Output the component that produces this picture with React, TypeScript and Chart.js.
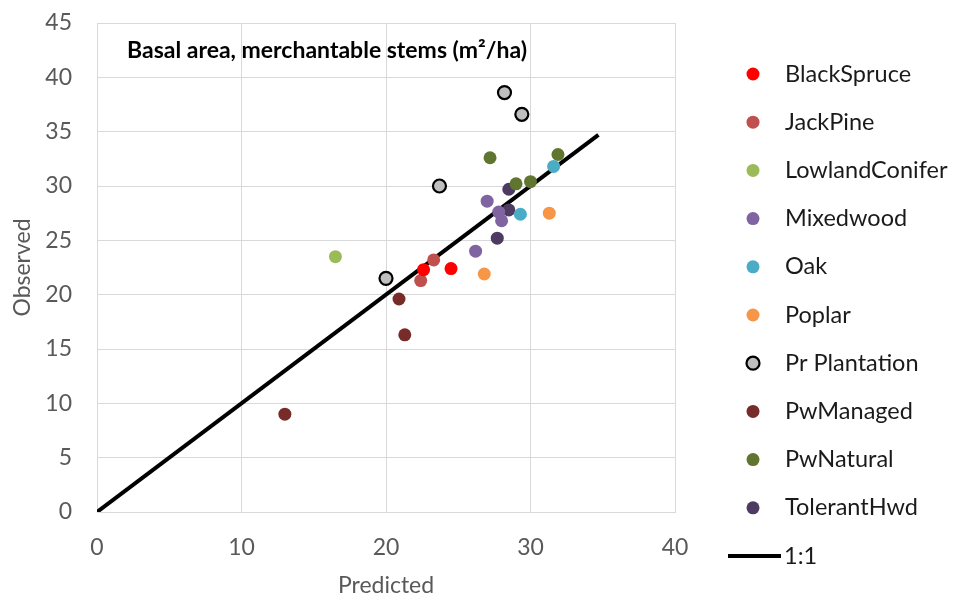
import React, { useEffect, useRef } from "react";
import { Chart, registerables } from "chart.js";

Chart.register(...registerables);

// ---- Data (Predicted vs Observed basal area, m²/ha) ----
const blackSprucePred = [22.6, 24.5];
const blackSpruceObs = [22.3, 22.4];
const jackPinePred = [23.3, 22.4];
const jackPineObs = [23.2, 21.3];
const lowlandConiferPred = [16.5];
const lowlandConiferObs = [23.5];
const mixedwoodPred = [27.0, 27.8, 28.0, 26.2];
const mixedwoodObs = [28.6, 27.6, 26.8, 24.0];
const oakPred = [31.6, 29.3];
const oakObs = [31.8, 27.4];
const poplarPred = [31.3, 26.8];
const poplarObs = [27.5, 21.9];
const prPlantationPred = [28.2, 29.4, 23.7, 20.0];
const prPlantationObs = [38.6, 36.6, 30.0, 21.5];
const pwManagedPred = [13.0, 20.9, 21.3];
const pwManagedObs = [9.0, 19.6, 16.3];
const pwNaturalPred = [27.2, 31.9, 29.0, 30.0];
const pwNaturalObs = [32.6, 32.9, 30.2, 30.4];
const tolerantHwdPred = [28.5, 28.5, 27.7];
const tolerantHwdObs = [29.7, 27.8, 25.2];
const oneToOneX = [0, 34.7];
const oneToOneY = [0, 34.7];

const xTicks = [0, 10, 20, 30, 40];
const yTicks = [0, 5, 10, 15, 20, 25, 30, 35, 40, 45];

const chartTitle = "Basal area, merchantable stems (m²/ha)";

const FONT = "Lato, 'Open Sans', sans-serif";

const toPoints = (xs: number[], ys: number[]) => xs.map((x, i) => ({ x, y: ys[i] }));

const seriesDefs = [
  { label: "BlackSpruce", xs: blackSprucePred, ys: blackSpruceObs, color: "#FF0000", border: "#FF0000" },
  { label: "JackPine", xs: jackPinePred, ys: jackPineObs, color: "#C0504D", border: "#C0504D" },
  { label: "LowlandConifer", xs: lowlandConiferPred, ys: lowlandConiferObs, color: "#9BBB59", border: "#9BBB59" },
  { label: "Mixedwood", xs: mixedwoodPred, ys: mixedwoodObs, color: "#8064A2", border: "#8064A2" },
  { label: "Oak", xs: oakPred, ys: oakObs, color: "#4BACC6", border: "#4BACC6" },
  { label: "Poplar", xs: poplarPred, ys: poplarObs, color: "#F79646", border: "#F79646" },
  { label: "Pr Plantation", xs: prPlantationPred, ys: prPlantationObs, color: "#BFBFBF", border: "#000000" },
  { label: "PwManaged", xs: pwManagedPred, ys: pwManagedObs, color: "#772C2A", border: "#772C2A" },
  { label: "PwNatural", xs: pwNaturalPred, ys: pwNaturalObs, color: "#5F7530", border: "#5F7530" },
  { label: "TolerantHwd", xs: tolerantHwdPred, ys: tolerantHwdObs, color: "#4D3B62", border: "#4D3B62" },
];

const customPlugin = {
  id: "customDecor",
  afterDraw(chart: any) {
    const ctx = chart.ctx;
    const area = chart.chartArea;
    ctx.save();
    // Title inside plot area
    ctx.fillStyle = "#000000";
    ctx.font = `bold 23px ${FONT}`;
    ctx.textAlign = "left";
    ctx.textBaseline = "alphabetic";
    ctx.fillText(chartTitle, area.left + 30, area.top + 35);

    // Legend
    const markerX = 753;
    const textX = 785;
    const startY = 74;
    const step = 48.2;
    ctx.font = `23.5px ${FONT}`;
    ctx.textBaseline = "middle";
    const datasets = chart.data.datasets;
    let row = 0;
    datasets.forEach((ds: any) => {
      const y = startY + row * step;
      if (ds.showLine) {
        ctx.strokeStyle = ds.borderColor;
        ctx.lineWidth = 4;
        ctx.beginPath();
        ctx.moveTo(728, y);
        ctx.lineTo(781, y);
        ctx.stroke();
        ctx.fillStyle = "#1a1a1a";
        ctx.fillText(ds.label, 784, y);
      } else {
        ctx.beginPath();
        ctx.arc(markerX, y, 6.5, 0, Math.PI * 2);
        ctx.fillStyle = ds.backgroundColor;
        ctx.fill();
        if (ds.borderColor !== ds.backgroundColor) {
          ctx.lineWidth = 2.2;
          ctx.strokeStyle = ds.borderColor;
          ctx.stroke();
        }
        ctx.fillStyle = "#1a1a1a";
        ctx.fillText(ds.label, textX, y);
      }
      row++;
    });
    ctx.restore();
  },
};

export default function App() {
  const canvasRef = useRef<HTMLCanvasElement | null>(null);

  useEffect(() => {
    if (!canvasRef.current) return;
    const datasets: any[] = seriesDefs.map((s) => ({
      label: s.label,
      data: toPoints(s.xs, s.ys),
      backgroundColor: s.color,
      borderColor: s.border,
      borderWidth: s.border !== s.color ? 2.2 : 0,
      pointRadius: 6.5,
      pointHoverRadius: 6.5,
      showLine: false,
      order: 1,
    }));
    datasets.push({
      label: "1:1",
      data: toPoints(oneToOneX, oneToOneY),
      borderColor: "#000000",
      backgroundColor: "#000000",
      borderWidth: 4,
      pointRadius: 0,
      showLine: true,
      order: 2,
    });

    const chart = new Chart(canvasRef.current, {
      type: "scatter",
      data: { datasets },
      options: {
        animation: false,
        responsive: true,
        maintainAspectRatio: false,
        layout: { padding: { left: 0, top: 23, right: 283, bottom: 0 } },
        plugins: {
          legend: { display: false },
          tooltip: { enabled: false },
          title: { display: false },
        },
        scales: {
          x: {
            type: "linear",
            min: 0,
            max: 40,
            afterBuildTicks: (scale: any) => {
              scale.ticks = xTicks.map((v) => ({ value: v }));
            },
            afterFit: (scale: any) => {
              scale.height = 86;
              scale.paddingLeft = 0;
              scale.paddingRight = 0;
            },
            grid: { color: "#D9D9D9", lineWidth: 1, drawTicks: false },
            border: { display: true, color: "#D9D9D9" },
            ticks: { color: "#595959", font: { family: FONT, size: 23 }, padding: 22 },
            title: {
              display: true,
              text: "Predicted",
              color: "#595959",
              font: { family: FONT, size: 23 },
              padding: { top: 0, bottom: -1 },
            },
          },
          y: {
            type: "linear",
            min: 0,
            max: 45,
            afterBuildTicks: (scale: any) => {
              scale.ticks = yTicks.map((v) => ({ value: v }));
            },
            afterFit: (scale: any) => {
              scale.width = 97;
              scale.paddingTop = 0;
              scale.paddingBottom = 0;
            },
            grid: { color: "#D9D9D9", lineWidth: 1, drawTicks: false },
            border: { display: true, color: "#D9D9D9" },
            ticks: { color: "#595959", font: { family: FONT, size: 23 }, padding: 25 },
            title: {
              display: true,
              text: "Observed",
              color: "#595959",
              font: { family: FONT, size: 23 },
              padding: { top: 9, bottom: 0 },
            },
          },
        },
      },
      plugins: [customPlugin],
    } as any);
    return () => chart.destroy();
  }, []);

  return (
    <div style={{ position: "fixed", left: 0, top: 0, width: 958, height: 598, background: "#ffffff" }}>
      <canvas ref={canvasRef} />
    </div>
  );
}
